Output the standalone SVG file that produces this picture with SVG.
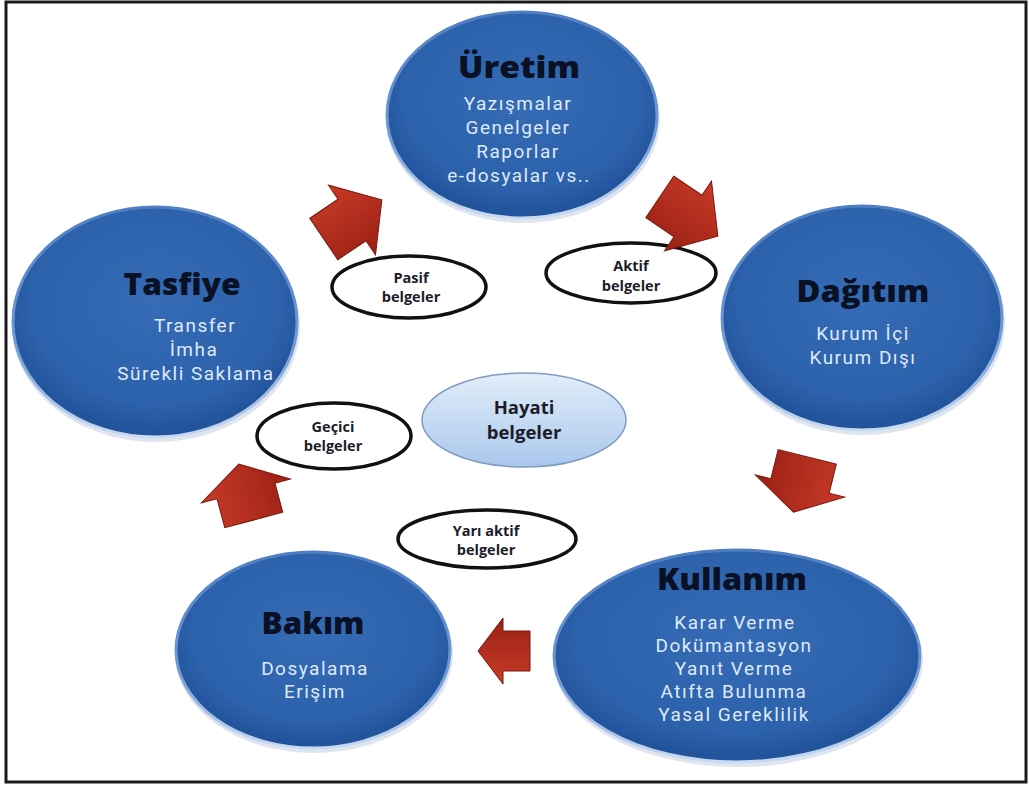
<svg xmlns="http://www.w3.org/2000/svg" width="1029" height="788" viewBox="0 0 1029 788">
  <defs>
    <radialGradient id="blue" cx="50%" cy="42%" r="55%">
      <stop offset="0" stop-color="#356cb5"/>
      <stop offset="0.8" stop-color="#2c61ab"/>
      <stop offset="1" stop-color="#22549c"/>
    </radialGradient>
    <linearGradient id="rim" x1="0" y1="0" x2="0" y2="1">
      <stop offset="0" stop-color="#4f7fc2"/>
      <stop offset="0.6" stop-color="#6f9ad6"/>
      <stop offset="1" stop-color="#c9dbf3"/>
    </linearGradient>
    <linearGradient id="sky" x1="0" y1="0" x2="0" y2="1">
      <stop offset="0" stop-color="#e2eefa"/>
      <stop offset="1" stop-color="#a9c7ec"/>
    </linearGradient>
    <linearGradient id="red" x1="0" y1="0" x2="0" y2="1">
      <stop offset="0" stop-color="#c83a28"/>
      <stop offset="1" stop-color="#9a2114"/>
    </linearGradient>
    <style>
      .frame { fill: #ffffff; stroke: #1b1b1b; stroke-width: 3; }
      .shadow { fill: #b7c6da; opacity: 0.45; }
      .circle { fill: url(#blue); stroke: url(#rim); stroke-width: 3; }
      .title { font-family: "Open Sans", "Liberation Sans", sans-serif; font-weight: 800; font-size: 30px; fill: #0a1124; text-anchor: middle; }
      .sub { font-family: Roboto, "Liberation Sans", sans-serif; font-size: 19px; letter-spacing: 1.5px; fill: #dfe9f7; text-anchor: middle; }
      .tag { fill: #ffffff; stroke: #111111; stroke-width: 3.5; }
      .tagtext { font-family: "Open Sans", "Liberation Sans", sans-serif; font-weight: 700; font-size: 14.5px; fill: #1c1c28; text-anchor: middle; }
      .hayati { fill: url(#sky); stroke: #7f9cc0; stroke-width: 1.5; }
      .hayatitext { font-family: "Open Sans", "Liberation Sans", sans-serif; font-weight: 700; font-size: 18.5px; fill: #1c1c28; text-anchor: middle; }
      .arrow { fill: url(#red); stroke: #7a180c; stroke-width: 1; stroke-linejoin: miter; }
    </style>
  </defs>

  <rect class="frame" x="6" y="2" width="1020" height="780"/>

  <g id="uretim">
    <ellipse class="shadow" cx="523" cy="119" rx="137" ry="104"/>
    <ellipse class="circle" cx="522" cy="115" rx="135" ry="103"/>
    <text class="title" x="519" y="78" textLength="122" lengthAdjust="spacingAndGlyphs">Üretim</text>
    <text class="sub" x="518" y="110">Yazışmalar</text>
    <text class="sub" x="518" y="134">Genelgeler</text>
    <text class="sub" x="518" y="158">Raporlar</text>
    <text class="sub" x="519" y="182">e-dosyalar vs..</text>
  </g>

  <g id="dagitim">
    <ellipse class="shadow" cx="863" cy="322" rx="142" ry="113"/>
    <ellipse class="circle" cx="862" cy="318" rx="140" ry="112"/>
    <text class="title" x="863" y="302" textLength="133" lengthAdjust="spacingAndGlyphs">Dağıtım</text>
    <text class="sub" x="863" y="340">Kurum İçi</text>
    <text class="sub" x="863" y="364">Kurum Dışı</text>
  </g>

  <g id="tasfiye">
    <ellipse class="shadow" cx="156" cy="326" rx="144" ry="116"/>
    <ellipse class="circle" cx="155" cy="322" rx="142" ry="115"/>
    <text class="title" x="182" y="295" textLength="117" lengthAdjust="spacingAndGlyphs">Tasfiye</text>
    <text class="sub" x="195" y="332">Transfer</text>
    <text class="sub" x="194" y="356">İmha</text>
    <text class="sub" x="196" y="380">Sürekli Saklama</text>
  </g>

  <g id="kullanim">
    <ellipse class="shadow" cx="738" cy="660" rx="185" ry="107"/>
    <ellipse class="circle" cx="737" cy="656" rx="183" ry="106"/>
    <text class="title" x="732" y="590" textLength="150" lengthAdjust="spacingAndGlyphs">Kullanım</text>
    <text class="sub" x="735" y="629">Karar Verme</text>
    <text class="sub" x="734" y="652">Dokümantasyon</text>
    <text class="sub" x="734" y="675">Yanıt Verme</text>
    <text class="sub" x="734" y="698">Atıfta Bulunma</text>
    <text class="sub" x="734" y="721">Yasal Gereklilik</text>
  </g>

  <g id="bakim">
    <ellipse class="shadow" cx="314" cy="654" rx="139" ry="99"/>
    <ellipse class="circle" cx="313" cy="650" rx="137" ry="98"/>
    <text class="title" x="313" y="634" textLength="103" lengthAdjust="spacingAndGlyphs">Bakım</text>
    <text class="sub" x="315" y="675">Dosyalama</text>
    <text class="sub" x="315" y="698">Erişim</text>
  </g>

  <g id="hayati">
    <ellipse class="hayati" cx="524" cy="420" rx="102" ry="47"/>
    <text class="hayatitext" x="524" y="414">Hayati</text>
    <text class="hayatitext" x="524" y="439">belgeler</text>
  </g>

  <g id="pasif">
    <ellipse class="tag" cx="409" cy="287" rx="77" ry="31"/>
    <text class="tagtext" x="411" y="283">Pasif</text>
    <text class="tagtext" x="411" y="302">belgeler</text>
  </g>

  <g id="aktif">
    <ellipse class="tag" cx="631" cy="273" rx="85" ry="30"/>
    <text class="tagtext" x="631" y="271">Aktif</text>
    <text class="tagtext" x="631" y="291">belgeler</text>
  </g>

  <g id="gecici">
    <ellipse class="tag" cx="334" cy="436" rx="77" ry="33"/>
    <text class="tagtext" x="333" y="432">Geçici</text>
    <text class="tagtext" x="333" y="451">belgeler</text>
  </g>

  <g id="yari-aktif">
    <ellipse class="tag" cx="487" cy="539" rx="89" ry="29"/>
    <text class="tagtext" x="486" y="536">Yarı aktif</text>
    <text class="tagtext" x="486" y="555">belgeler</text>
  </g>

  <g id="connectors">
    <polygon class="arrow" transform="translate(352,220) rotate(-34)" points="-34,-25 0,-25 0,-42 36,0 0,42 0,25 -34,25"/>
    <polygon class="arrow" transform="translate(688,216) rotate(34)" points="-34,-25 0,-25 0,-42 36,0 0,42 0,25 -34,25"/>
    <polygon class="arrow" transform="translate(800,486) rotate(104)" points="-30,-30 0,-30 0,-46 27,0 0,46 0,30 -30,30"/>
    <polygon class="arrow" transform="translate(503,651) rotate(180)" points="-27,-20 0,-20 0,-33 25,0 0,33 0,20 -27,20"/>
    <polygon class="arrow" transform="translate(246,491) rotate(-105)" points="-30,-30 0,-30 0,-46 28,0 0,46 0,30 -30,30"/>
  </g>
</svg>
